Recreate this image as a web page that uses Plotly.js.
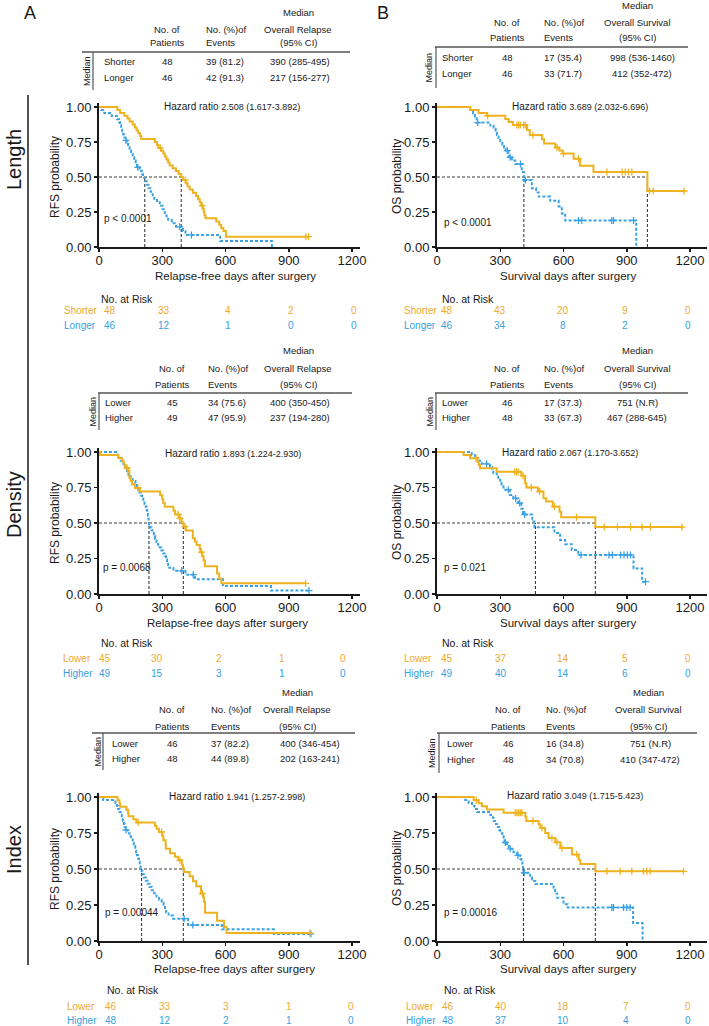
<!DOCTYPE html>
<html><head><meta charset="utf-8">
<script src="https://cdn.plot.ly/plotly-3.0.1.min.js"></script>
<style>html,body{margin:0;padding:0;background:#fff}</style>
</head><body><div id="chart" style="width:709px;height:1026px"></div>
<script>
// ================= DATA =================
// Panel A1: Length, RFS
const lenRfsGroups = ['Shorter', 'Longer'];
const lenRfsN = [48, 46];
const lenRfsEvents = ['39 (81.2)', '42 (91.3)'];
const lenRfsMedianCI = ['390 (285-495)', '217 (156-277)'];
const lenRfsMedianDays = [390, 217];
const lenRfsRisk1 = [48, 33, 4, 2, 0];
const lenRfsRisk2 = [46, 12, 1, 0, 0];
const lenRfsHR = '2.508 (1.617-3.892)';
const lenRfsP = 'p < 0.0001';
const lenRfsT1 = [0, 87, 100, 120, 135, 145, 160, 170, 178, 186, 195, 200, 265, 275, 282, 295, 305, 312, 320, 328, 335, 350, 365, 378, 390, 398, 412, 420, 430, 445, 460, 470, 478, 485, 492, 497, 500, 505, 556, 570, 580, 590, 602];
const lenRfsS1 = [1, 0.979, 0.958, 0.938, 0.917, 0.896, 0.875, 0.854, 0.833, 0.813, 0.792, 0.771, 0.750, 0.729, 0.708, 0.688, 0.667, 0.646, 0.625, 0.604, 0.583, 0.562, 0.542, 0.521, 0.500, 0.479, 0.456, 0.433, 0.410, 0.387, 0.364, 0.341, 0.319, 0.296, 0.273, 0.250, 0.227, 0.205, 0.182, 0.159, 0.136, 0.114, 0.074];
const lenRfsC1 = [291, 409, 489, 981, 994];
const lenRfsT2 = [0, 10, 25, 60, 85, 95, 100, 105, 110, 115, 120, 125, 132, 138, 145, 152, 160, 167, 174, 180, 192, 203, 209, 218, 226, 235, 245, 255, 262, 275, 288, 302, 312, 320, 328, 345, 365, 398, 410, 575, 820];
const lenRfsS2 = [1, 0.978, 0.957, 0.935, 0.913, 0.891, 0.870, 0.848, 0.826, 0.804, 0.783, 0.761, 0.737, 0.713, 0.689, 0.665, 0.641, 0.617, 0.593, 0.569, 0.544, 0.519, 0.494, 0.469, 0.444, 0.419, 0.394, 0.369, 0.344, 0.319, 0.294, 0.269, 0.244, 0.219, 0.194, 0.169, 0.144, 0.115, 0.086, 0.043, 0];
const lenRfsC2 = [128, 184, 383, 438];

// Panel B1: Length, OS
const lenOsGroups = ['Shorter', 'Longer'];
const lenOsN = [48, 46];
const lenOsEvents = ['17 (35.4)', '33 (71.7)'];
const lenOsMedianCI = ['998 (536-1460)', '412 (352-472)'];
const lenOsMedianDays = [998, 412];
const lenOsRisk1 = [48, 43, 20, 9, 0];
const lenOsRisk2 = [46, 34, 8, 2, 0];
const lenOsHR = '3.689 (2.032-6.696)';
const lenOsP = 'p < 0.0001';
const lenOsT1 = [0, 158, 197, 237, 324, 340, 360, 427, 440, 498, 508, 561, 580, 597, 648, 679, 742, 998];
const lenOsS1 = [1, 0.979, 0.958, 0.937, 0.915, 0.893, 0.871, 0.836, 0.800, 0.770, 0.740, 0.710, 0.690, 0.667, 0.630, 0.580, 0.536, 0.400];
const lenOsC1 = [240, 379, 387, 395, 411, 419, 455, 569, 600, 671, 806, 878, 893, 908, 924, 1008, 1025, 1172];
const lenOsT2 = [0, 158, 171, 180, 188, 253, 268, 278, 284, 292, 300, 310, 318, 326, 338, 342, 355, 371, 402, 412, 450, 470, 482, 537, 577, 592, 608, 945];
const lenOsS2 = [1, 0.978, 0.956, 0.933, 0.889, 0.867, 0.844, 0.822, 0.800, 0.778, 0.756, 0.733, 0.711, 0.689, 0.665, 0.641, 0.617, 0.593, 0.536, 0.479, 0.420, 0.390, 0.360, 0.330, 0.290, 0.240, 0.190, 0];
const lenOsC2 = [193, 333, 347, 396, 419, 671, 687, 829, 837, 932];

// Panel A2: Density, RFS
const denRfsGroups = ['Lower', 'Higher'];
const denRfsN = [45, 49];
const denRfsEvents = ['34 (75.6)', '47 (95.9)'];
const denRfsMedianCI = ['400 (350-450)', '237 (194-280)'];
const denRfsMedianDays = [400, 237];
const denRfsRisk1 = [45, 30, 2, 1, 0];
const denRfsRisk2 = [49, 15, 3, 1, 0];
const denRfsHR = '1.893 (1.224-2.930)';
const denRfsP = 'p = 0.0068';
const denRfsT1 = [0, 5, 91, 110, 118, 125, 140, 144, 150, 157, 170, 195, 290, 300, 305, 312, 353, 361, 380, 392, 400, 412, 445, 455, 463, 478, 481, 490, 496, 502, 560, 570, 580];
const denRfsS1 = [1, 0.978, 0.956, 0.933, 0.911, 0.889, 0.866, 0.819, 0.795, 0.771, 0.747, 0.721, 0.695, 0.668, 0.641, 0.614, 0.587, 0.560, 0.532, 0.503, 0.475, 0.447, 0.393, 0.370, 0.345, 0.320, 0.295, 0.266, 0.236, 0.196, 0.145, 0.110, 0.075];
const denRfsC1 = [133, 185, 376, 384, 408, 486, 980];
const denRfsT2 = [0, 86, 96, 103, 110, 118, 125, 132, 140, 150, 160, 173, 180, 186, 192, 198, 204, 210, 216, 222, 226, 229, 232, 234, 235, 237, 243, 249, 254, 260, 266, 273, 280, 288, 296, 304, 312, 318, 323, 328, 333, 353, 410, 455, 588, 816];
const denRfsS2 = [1, 0.980, 0.959, 0.939, 0.918, 0.898, 0.878, 0.857, 0.837, 0.816, 0.796, 0.776, 0.755, 0.735, 0.714, 0.694, 0.673, 0.653, 0.633, 0.612, 0.592, 0.571, 0.551, 0.531, 0.510, 0.490, 0.469, 0.449, 0.429, 0.408, 0.388, 0.367, 0.347, 0.327, 0.306, 0.286, 0.265, 0.245, 0.224, 0.204, 0.184, 0.163, 0.136, 0.104, 0.056, 0.024];
const denRfsC2 = [392, 447, 996];

// Panel B2: Density, OS
const denOsGroups = ['Lower', 'Higher'];
const denOsN = [46, 48];
const denOsEvents = ['17 (37.3)', '33 (67.3)'];
const denOsMedianCI = ['751 (N.R)', '467 (288-645)'];
const denOsMedianDays = [751, 467];
const denOsRisk1 = [45, 37, 14, 5, 0];
const denOsRisk2 = [49, 40, 14, 6, 0];
const denOsHR = '2.067 (1.170-3.652)';
const denOsP = 'p = 0.021';
const denOsT1 = [0, 126, 157, 192, 198, 204, 283, 400, 418, 424, 479, 505, 518, 549, 581, 589, 751];
const denOsS1 = [1, 0.978, 0.956, 0.932, 0.909, 0.885, 0.861, 0.833, 0.780, 0.750, 0.722, 0.675, 0.652, 0.616, 0.580, 0.540, 0.471];
const denOsC1 = [185, 369, 377, 385, 408, 447, 487, 557, 662, 793, 856, 918, 973, 1012, 1162];
const denOsT2 = [0, 165, 180, 200, 212, 251, 262, 267, 283, 290, 300, 306, 315, 345, 362, 385, 400, 408, 452, 462, 557, 584, 608, 639, 670, 932, 973];
const denOsS2 = [1, 0.979, 0.958, 0.938, 0.917, 0.895, 0.872, 0.850, 0.827, 0.804, 0.781, 0.758, 0.735, 0.698, 0.673, 0.640, 0.600, 0.560, 0.510, 0.470, 0.430, 0.380, 0.350, 0.310, 0.275, 0.180, 0.087];
const denOsC2 = [235, 338, 373, 392, 416, 683, 816, 832, 871, 887, 903, 918, 989];

// Panel A3: Index, RFS
const idxRfsGroups = ['Lower', 'Higher'];
const idxRfsN = [46, 48];
const idxRfsEvents = ['37 (82.2)', '44 (89.8)'];
const idxRfsMedianCI = ['400 (346-454)', '202 (163-241)'];
const idxRfsMedianDays = [400, 202];
const idxRfsRisk1 = [46, 33, 3, 1, 0];
const idxRfsRisk2 = [48, 12, 2, 1, 0];
const idxRfsHR = '1.941 (1.257-2.998)';
const idxRfsP = 'p = 0.00044';
const idxRfsT1 = [0, 88, 97, 100, 130, 138, 140, 163, 178, 265, 273, 284, 300, 305, 316, 317, 337, 360, 376, 393, 398, 403, 430, 446, 461, 484, 495, 498, 503, 560, 593, 605];
const idxRfsS1 = [1, 0.978, 0.956, 0.933, 0.911, 0.889, 0.867, 0.845, 0.823, 0.800, 0.780, 0.757, 0.730, 0.700, 0.670, 0.640, 0.610, 0.585, 0.560, 0.530, 0.505, 0.480, 0.450, 0.415, 0.380, 0.330, 0.300, 0.270, 0.196, 0.140, 0.097, 0.055];
const idxRfsC1 = [186, 297, 384, 490, 1000];
const idxRfsT2 = [0, 20, 78, 85, 90, 97, 103, 108, 113, 118, 122, 126, 135, 145, 152, 160, 165, 172, 176, 180, 185, 189, 193, 197, 202, 207, 213, 222, 230, 240, 250, 262, 273, 285, 297, 306, 313, 318, 330, 352, 422, 583, 829];
const idxRfsS2 = [1, 0.979, 0.958, 0.938, 0.917, 0.896, 0.875, 0.854, 0.833, 0.813, 0.792, 0.771, 0.749, 0.727, 0.705, 0.683, 0.661, 0.639, 0.617, 0.595, 0.573, 0.551, 0.529, 0.507, 0.485, 0.463, 0.441, 0.419, 0.397, 0.375, 0.353, 0.331, 0.309, 0.287, 0.265, 0.243, 0.221, 0.199, 0.177, 0.155, 0.111, 0.081, 0.049];
const idxRfsC2 = [128, 404, 445, 1005];

// Panel B3: Index, OS
const idxOsGroups = ['Lower', 'Higher'];
const idxOsN = [46, 48];
const idxOsEvents = ['16 (34.8)', '34 (70.8)'];
const idxOsMedianCI = ['751 (N.R)', '410 (347-472)'];
const idxOsMedianDays = [751, 410];
const idxOsRisk1 = [46, 40, 18, 7, 0];
const idxOsRisk2 = [48, 37, 10, 4, 0];
const idxOsHR = '3.049 (1.715-5.423)';
const idxOsP = 'p = 0.00016';
const idxOsT1 = [0, 174, 197, 213, 237, 316, 419, 424, 482, 490, 513, 529, 561, 585, 640, 672, 680, 751];
const idxOsS1 = [1, 0.978, 0.956, 0.935, 0.913, 0.891, 0.862, 0.833, 0.810, 0.785, 0.750, 0.715, 0.685, 0.645, 0.600, 0.565, 0.535, 0.484];
const idxOsC1 = [186, 371, 379, 387, 395, 403, 455, 498, 545, 569, 593, 663, 806, 869, 924, 979, 995, 1011, 1169];
const idxOsT2 = [0, 134, 150, 166, 178, 190, 253, 265, 269, 280, 284, 295, 300, 310, 316, 320, 332, 340, 363, 379, 395, 400, 405, 408, 410, 442, 450, 466, 553, 560, 570, 600, 620, 930, 975];
const idxOsS2 = [1, 0.979, 0.958, 0.938, 0.917, 0.896, 0.875, 0.854, 0.833, 0.812, 0.791, 0.770, 0.749, 0.727, 0.705, 0.684, 0.662, 0.640, 0.617, 0.594, 0.570, 0.546, 0.522, 0.498, 0.474, 0.442, 0.417, 0.395, 0.372, 0.330, 0.300, 0.256, 0.233, 0.125, 0];
const idxOsC2 = [324, 347, 384, 414, 829, 837, 885, 900, 916];

// Labels
const xTickVals = [0, 300, 600, 900, 1200];
const yTickVals = [0, 0.25, 0.5, 0.75, 1];
const yTickText = ['0.00', '0.25', '0.50', '0.75', '1.00'];
const rfsLabels = {outcome: 'Overall Relapse', ytitle: 'RFS probability', xtitle: 'Relapse-free days after surgery'};
const osLabels = {outcome: 'Overall Survival', ytitle: 'OS probability', xtitle: 'Survival days after surgery'};
const rowLabels = ['Length', 'Density', 'Index'];
const panelLetters = ['A', 'B'];

// ================= LAYOUT GEOMETRY (pixels) =================
const W = 709, H = 1026;
const px = x => x / W;
const py = y => 1 - y / H;
const FONT = 'Liberation Sans, Arial, sans-serif';
const ORANGE = '#EEB220', BLUE = '#3AA2E4';
const ORANGE_T = '#F0A92C', BLUE_T = '#359FE2';
const INK = '#1a1a1a';

const colGeom = {A: {x0: 99, x1200: 352, xEnd: 360}, B: {x0: 437, x1200: 690, xEnd: 707}};
const rowGeom = [{yTop: 107, yBot: 247}, {yTop: 452, yBot: 594}, {yTop: 797, yBot: 941}];

const tblGeom = [
  {hdrY: [12, 29, 43], lineY: 52, rowY: [62, 77], vX: 93, vBot: 90, lineX: [82, 350], medRotX: 87, labX: 103, nX: 167, evX: 205, ciX: 300, ciHdrX: 298},
  {hdrY: [6, 23, 38], lineY: 47, rowY: [57, 73], vX: 436, vBot: 88, lineX: [435, 688], medRotX: 429, labX: 441, nX: 507, evX: 543, ciX: 642, ciHdrX: 637},
  {hdrY: [351, 368, 384], lineY: 393, rowY: [402, 417], vX: 99, vBot: 430, lineX: [98, 352], medRotX: 92, labX: 104, nX: 172, evX: 207, ciX: 300, ciHdrX: 298},
  {hdrY: [351, 368, 384], lineY: 393, rowY: [402, 417], vX: 436, vBot: 430, lineX: [435, 688], medRotX: 429, labX: 441, nX: 507, evX: 543, ciX: 637, ciHdrX: 637},
  {hdrY: [692, 709, 726], lineY: 733, rowY: [743, 758], vX: 103, vBot: 770, lineX: [92, 355], medRotX: 97, labX: 111, nX: 172, evX: 210, ciX: 310, ciHdrX: 297},
  {hdrY: [692, 709, 726], lineY: 733, rowY: [743, 759], vX: 439, vBot: 773, lineX: [437, 697], medRotX: 432, labX: 446, nX: 508, evX: 545, ciX: 650, ciHdrX: 648}
];
const riskGeom = [
  {titleX: 100, titleY: 299, labX: 63, rowY: [311, 325], valX: [110, 164, 228, 291, 354]},
  {titleX: 441, titleY: 299, labX: 403, rowY: [311, 325], valX: [447, 500, 563, 625, 688]},
  {titleX: 100, titleY: 643, labX: 62, rowY: [658, 673], valX: [105, 157, 219, 282, 343]},
  {titleX: 441, titleY: 643, labX: 403, rowY: [658, 673], valX: [447, 501, 563, 625, 688]},
  {titleX: 106, titleY: 990, labX: 66, rowY: [1006, 1020], valX: [111, 165, 226, 289, 351]},
  {titleX: 443, titleY: 990, labX: 405, rowY: [1006, 1020], valX: [448, 501, 563, 626, 688]}
];
const txtGeom = [
  {hr: [232, 106], p: [103, 218], yt: [55, 177], xt: [235, 276]},
  {hr: [580, 106], p: [443, 223], yt: [397, 177], xt: [568, 276]},
  {hr: [233, 454], p: [102, 567], yt: [55, 523], xt: [227, 623]},
  {hr: [570, 452], p: [443, 567], yt: [397, 523], xt: [568, 623]},
  {hr: [237, 796], p: [104, 912], yt: [55, 869], xt: [234, 969]},
  {hr: [575, 795], p: [443, 912], yt: [397, 869], xt: [568, 969]}
];

const panels = [
  {col: 'A', row: 0, lab: rfsLabels, T1: lenRfsT1, S1: lenRfsS1, C1: lenRfsC1, T2: lenRfsT2, S2: lenRfsS2, C2: lenRfsC2, groups: lenRfsGroups, n: lenRfsN, ev: lenRfsEvents, ci: lenRfsMedianCI, med: lenRfsMedianDays, risk: [lenRfsRisk1, lenRfsRisk2], hr: lenRfsHR, p: lenRfsP},
  {col: 'B', row: 0, lab: osLabels, T1: lenOsT1, S1: lenOsS1, C1: lenOsC1, T2: lenOsT2, S2: lenOsS2, C2: lenOsC2, groups: lenOsGroups, n: lenOsN, ev: lenOsEvents, ci: lenOsMedianCI, med: lenOsMedianDays, risk: [lenOsRisk1, lenOsRisk2], hr: lenOsHR, p: lenOsP},
  {col: 'A', row: 1, lab: rfsLabels, T1: denRfsT1, S1: denRfsS1, C1: denRfsC1, T2: denRfsT2, S2: denRfsS2, C2: denRfsC2, groups: denRfsGroups, n: denRfsN, ev: denRfsEvents, ci: denRfsMedianCI, med: denRfsMedianDays, risk: [denRfsRisk1, denRfsRisk2], hr: denRfsHR, p: denRfsP},
  {col: 'B', row: 1, lab: osLabels, T1: denOsT1, S1: denOsS1, C1: denOsC1, T2: denOsT2, S2: denOsS2, C2: denOsC2, groups: denOsGroups, n: denOsN, ev: denOsEvents, ci: denOsMedianCI, med: denOsMedianDays, risk: [denOsRisk1, denOsRisk2], hr: denOsHR, p: denOsP},
  {col: 'A', row: 2, lab: rfsLabels, T1: idxRfsT1, S1: idxRfsS1, C1: idxRfsC1, T2: idxRfsT2, S2: idxRfsS2, C2: idxRfsC2, groups: idxRfsGroups, n: idxRfsN, ev: idxRfsEvents, ci: idxRfsMedianCI, med: idxRfsMedianDays, risk: [idxRfsRisk1, idxRfsRisk2], hr: idxRfsHR, p: idxRfsP},
  {col: 'B', row: 2, lab: osLabels, T1: idxOsT1, S1: idxOsS1, C1: idxOsC1, T2: idxOsT2, S2: idxOsS2, C2: idxOsC2, groups: idxOsGroups, n: idxOsN, ev: idxOsEvents, ci: idxOsMedianCI, med: idxOsMedianDays, risk: [idxOsRisk1, idxOsRisk2], hr: idxOsHR, p: idxOsP}
];

// ================= BUILD =================
function stepAt(T, S, t) { let v = S[0]; for (let i = 0; i < T.length; i++) { if (T[i] <= t) v = S[i]; else break; } return v; }
function ann(x, y, text, size, anchor, color, angle) {
  return {xref: 'paper', yref: 'paper', x: px(x), y: py(y), text: text, showarrow: false,
    xanchor: anchor || 'center', yanchor: 'middle', textangle: angle || 0, borderpad: 0,
    font: {family: FONT, size: size, color: color || INK}};
}
function pline(x0, y0, x1, y1, w, color, dash) {
  return {type: 'line', xref: 'paper', yref: 'paper', x0: px(x0), y0: py(y0), x1: px(x1), y1: py(y1),
    line: {color: color || '#333', width: w || 1, dash: dash || 'solid'}};
}

const traces = [], annotations = [], shapes = [];
const layout = {width: W, height: H, margin: {l: 0, r: 0, t: 0, b: 0}, showlegend: false,
  paper_bgcolor: '#fff', plot_bgcolor: 'rgba(0,0,0,0)', font: {family: FONT, color: INK}};

panels.forEach((P, i) => {
  const k = i === 0 ? '' : String(i + 1);
  const xa = 'x' + k, ya = 'y' + k;
  const cg = colGeom[P.col], rg = rowGeom[P.row];
  const xMax = 1200 * (cg.xEnd - cg.x0) / (cg.x1200 - cg.x0);
  const yMax = 1.03;
  const yTopPx = rg.yBot - yMax * (rg.yBot - rg.yTop);
  layout['xaxis' + k] = {domain: [px(cg.x0), px(cg.xEnd)], range: [0, xMax], anchor: ya,
    showgrid: false, zeroline: false, showline: true, linecolor: INK, linewidth: 2,
    ticks: 'outside', ticklen: 3, tickwidth: 1.5, tickcolor: INK, tickvals: xTickVals,
    ticklabelstandoff: -3,
    tickfont: {family: FONT, size: 13, color: INK}, fixedrange: true};
  layout['yaxis' + k] = {domain: [py(rg.yBot), py(yTopPx)], range: [0, yMax], anchor: xa,
    showgrid: false, zeroline: false, showline: true, linecolor: INK, linewidth: 2,
    ticks: 'outside', ticklen: 3, tickwidth: 1.5, tickcolor: INK, tickvals: yTickVals, ticktext: yTickText,
    tickfont: {family: FONT, size: 13, color: INK}, fixedrange: true};

  // median reference lines
  const mMax = Math.max(P.med[0], P.med[1]);
  shapes.push({type: 'line', xref: xa, yref: ya, x0: 0, x1: mMax, y0: 0.5, y1: 0.5, layer: 'below', line: {color: '#3a3a3a', width: 1.1, dash: '3px,2px'}});
  P.med.forEach(m => shapes.push({type: 'line', xref: xa, yref: ya, x0: m, x1: m, y0: 0, y1: 0.5, layer: 'below', line: {color: '#3a3a3a', width: 1.1, dash: '3px,2px'}}));

  // curves
  [[P.T2, P.S2, P.C2, BLUE, '3px,2px'], [P.T1, P.S1, P.C1, ORANGE, 'solid']].forEach(([T, S, C, color, dash]) => {
    const xs = T.slice(), ys = S.slice();
    const lastC = C.length ? Math.max.apply(null, C) : 0;
    if (lastC > xs[xs.length - 1]) { xs.push(lastC); ys.push(ys[ys.length - 1]); }
    traces.push({x: xs, y: ys, mode: 'lines', line: {shape: 'hv', color: color, width: 2, dash: dash}, xaxis: xa, yaxis: ya, hoverinfo: 'skip', cliponaxis: false});
    traces.push({x: C, y: C.map(t => stepAt(T, S, t)), mode: 'markers', xaxis: xa, yaxis: ya, hoverinfo: 'skip',
      marker: {symbol: 'cross-thin', size: 5, color: color, line: {color: color, width: 1.3}}});
  });

  // texts in plot
  const tg = txtGeom[i];
  annotations.push(ann(tg.hr[0], tg.hr[1], 'Hazard ratio <span style="font-size:9px">' + P.hr + '</span>', 10));
  annotations.push(ann(tg.p[0], tg.p[1], P.p, 10, 'left'));
  annotations.push(ann(tg.yt[0], tg.yt[1], P.lab.ytitle, 12, 'center', INK, -90));
  annotations.push(ann(tg.xt[0], tg.xt[1], P.lab.xtitle, 11.5));

  // header table
  const g = tblGeom[i];
  annotations.push(ann(g.ciHdrX, g.hdrY[0], 'Median', 9.5));
  annotations.push(ann(g.nX, g.hdrY[1], 'No. of', 9.5));
  annotations.push(ann(g.evX, g.hdrY[1], 'No. (%)of', 9.5, 'left'));
  annotations.push(ann(g.ciHdrX, g.hdrY[1], P.lab.outcome, 9.5));
  annotations.push(ann(g.nX, g.hdrY[2], 'Patients', 9.5));
  annotations.push(ann(g.evX, g.hdrY[2], 'Events', 9.5, 'left'));
  annotations.push(ann(g.ciHdrX, g.hdrY[2], '(95% CI)', 9.5));
  for (let r = 0; r < 2; r++) {
    annotations.push(ann(g.labX, g.rowY[r], P.groups[r], 9.5, 'left'));
    annotations.push(ann(g.nX, g.rowY[r], String(P.n[r]), 9.5));
    annotations.push(ann(g.evX, g.rowY[r], P.ev[r], 9.5, 'left'));
    annotations.push(ann(g.ciX, g.rowY[r], P.ci[r], 9.5));
  }
  annotations.push(ann(g.medRotX, (g.lineY + g.vBot) / 2, 'Median', 9, 'center', INK, -90));
  shapes.push(pline(g.lineX[0], g.lineY, g.lineX[1], g.lineY, 1.5, '#555'));
  shapes.push(pline(g.vX, g.lineY, g.vX, g.vBot, 1.2, '#555'));

  // number at risk
  const rk = riskGeom[i];
  annotations.push(ann(rk.titleX, rk.titleY, 'No. at Risk', 10.5, 'left'));
  [ORANGE_T, BLUE_T].forEach((c, r) => {
    annotations.push(ann(rk.labX, rk.rowY[r], P.groups[r], 10, 'left', c));
    P.risk[r].forEach((v, j) => annotations.push(ann(rk.valX[j], rk.rowY[r], String(v), 10, 'center', c)));
  });
});

// panel letters & row labels
annotations.push(ann(30, 13, panelLetters[0], 18));
annotations.push(ann(383, 13, panelLetters[1], 18));
[160, 505, 850].forEach((y, r) => annotations.push(ann(14, y, rowLabels[r], 20, 'center', INK, -90)));
shapes.push(pline(28, 95, 28, 965, 1.5, INK));

layout.annotations = annotations;
layout.shapes = shapes;
Plotly.newPlot('chart', traces, layout, {staticPlot: true, displayModeBar: false});
</script></body></html>
